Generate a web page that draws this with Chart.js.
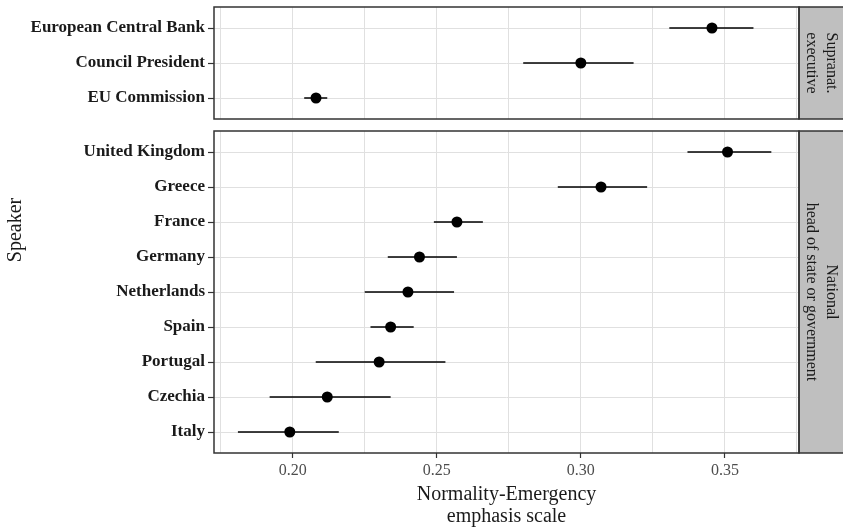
<!DOCTYPE html>
<html>
<head>
<meta charset="utf-8">
<script src="https://cdn.jsdelivr.net/npm/chart.js@4"></script>
<style>
  body { margin: 0; background: #fff; }
</style>
</head>
<body>
<canvas id="grafico" width="843" height="528"></canvas>
<script>
// datos
var speakers = ["European Central Bank", "Council President", "EU Commission",
  "United Kingdom", "Greece", "France", "Germany", "Netherlands", "Spain", "Portugal", "Czechia", "Italy"];
var panel = [0, 0, 0, 1, 1, 1, 1, 1, 1, 1, 1, 1];
var estimate = [0.3455, 0.300, 0.2081, 0.3509, 0.307, 0.257, 0.244, 0.240, 0.234, 0.230, 0.212, 0.199];
var lower = [0.3307, 0.280, 0.204, 0.337, 0.292, 0.249, 0.233, 0.225, 0.227, 0.208, 0.192, 0.181];
var upper = [0.3599, 0.3183, 0.212, 0.3661, 0.323, 0.266, 0.257, 0.256, 0.242, 0.253, 0.234, 0.216];
var majorTicks = [0.20, 0.25, 0.30, 0.35];
var minorTicks = [0.175, 0.225, 0.275, 0.325, 0.375];
var stripLabels = [["Supranat.", "executive"], ["National", "head of state or government"]];

var serif = "'Liberation Serif', 'Times New Roman', serif";
var gapUnits = 12 / 35; // hueco entre paneles

// posicion vertical de cada fila (0.6 de margen como ggplot)
var posiciones = [];
var limitesPanel = [];
(function () {
  var inicio = -0.6;
  var p = -1;
  speakers.forEach(function (s, i) {
    if (panel[i] !== p) {
      if (p !== -1) {
        limitesPanel[p].fin = posiciones[i - 1] + 0.6;
        inicio = limitesPanel[p].fin + gapUnits;
      }
      p = panel[i];
      limitesPanel[p] = { ini: inicio };
      posiciones.push(inicio + 0.6);
    } else {
      posiciones.push(posiciones[i - 1] + 1);
    }
  });
  limitesPanel[p].fin = posiciones[posiciones.length - 1] + 0.6;
})();

var datasets = [];
speakers.forEach(function (s, i) {
  datasets.push({
    data: [{ x: lower[i], y: posiciones[i] }, { x: upper[i], y: posiciones[i] }],
    showLine: true,
    borderColor: "#000",
    borderWidth: 1.5,
    pointRadius: 0,
  });
});
datasets.push({
  data: speakers.map(function (s, i) {
    return { x: estimate[i], y: posiciones[i] };
  }),
  pointRadius: 5.5,
  pointBackgroundColor: "#000",
  pointBorderColor: "#000",
  borderWidth: 0,
});

var esMayor = function (v) {
  return majorTicks.some(function (m) { return Math.abs(m - v) < 1e-6; });
};

var paneles = {
  id: "paneles",
  afterDraw: function (chart) {
    var ctx = chart.ctx;
    var area = chart.chartArea;
    var y = chart.scales.y;
    var ancho = chart.width;
    ctx.save();
    // hueco blanco entre paneles
    var gapTop = y.getPixelForValue(limitesPanel[0].fin);
    var gapBot = y.getPixelForValue(limitesPanel[1].ini);
    ctx.fillStyle = "#fff";
    ctx.fillRect(area.left - 1, gapTop, ancho - area.left + 1, gapBot - gapTop);

    limitesPanel.forEach(function (lp, k) {
      var t = y.getPixelForValue(lp.ini);
      var b = y.getPixelForValue(lp.fin);
      // franja gris
      ctx.fillStyle = "#bfbfbf";
      ctx.fillRect(area.right, t, ancho - area.right, b - t);
      ctx.strokeStyle = "#333";
      ctx.lineWidth = 1.5;
      ctx.strokeRect(area.right, t, ancho - area.right + 2, b - t);
      // borde del panel
      ctx.strokeRect(area.left, t, area.right - area.left, b - t);
      // texto de la franja
      ctx.fillStyle = "#1a1a1a";
      ctx.font = "16px " + serif;
      ctx.textAlign = "center";
      ctx.textBaseline = "middle";
      var cx = (area.right + ancho) / 2;
      var cy = (t + b) / 2;
      ctx.translate(cx, cy);
      ctx.rotate(Math.PI / 2);
      var lineas = stripLabels[k];
      lineas.forEach(function (txt, j) {
        ctx.fillText(txt, 0, (j - (lineas.length - 1) / 2) * 20);
      });
      ctx.setTransform(1, 0, 0, 1, 0, 0);
    });
    ctx.restore();
  },
};

new Chart(document.getElementById("grafico"), {
  type: "scatter",
  data: { datasets: datasets },
  plugins: [paneles],
  options: {
    responsive: false,
    animation: false,
    devicePixelRatio: 1,
    layout: { padding: { top: 7, right: 44, left: 0, bottom: 0 } },
    plugins: { legend: { display: false }, tooltip: { enabled: false } },
    scales: {
      x: {
        type: "linear",
        min: 0.1727,
        max: 0.3757,
        afterBuildTicks: function (scale) {
          scale.ticks = minorTicks.concat(majorTicks).sort().map(function (v) {
            return { value: v };
          });
        },
        afterFit: function (scale) {
          scale.height = 75;
          scale.paddingLeft = 0;
          scale.paddingRight = 0;
        },
        border: { display: false },
        grid: {
          color: "#e0e0e0",
          lineWidth: 1,
          tickLength: 5,
          tickColor: function (c) {
            return esMayor(c.tick.value) ? "#333" : "rgba(0,0,0,0)";
          },
          tickWidth: 1.2,
        },
        ticks: {
          padding: 3,
          maxRotation: 0,
          autoSkip: false,
          color: "#4d4d4d",
          font: { family: serif, size: 16 },
          callback: function (v) {
            return esMayor(v) ? v.toFixed(2) : "";
          },
        },
        title: {
          display: true,
          text: ["Normality-Emergency", "emphasis scale"],
          color: "#1a1a1a",
          font: { family: serif, size: 20, lineHeight: 1.1 },
          padding: { top: 2, bottom: 0 },
        },
      },
      y: {
        type: "linear",
        reverse: true,
        min: limitesPanel[0].ini,
        max: limitesPanel[1].fin,
        afterBuildTicks: function (scale) {
          scale.ticks = posiciones.map(function (v) {
            return { value: v };
          });
        },
        afterFit: function (scale) {
          scale.width = 214;
          scale.paddingTop = 0;
          scale.paddingBottom = 0;
        },
        border: { display: false },
        grid: {
          color: "#e0e0e0",
          lineWidth: 1,
          tickLength: 6,
          tickColor: "#333",
          tickWidth: 1.2,
        },
        ticks: {
          padding: 3,
          autoSkip: false,
          color: "#1a1a1a",
          font: { family: serif, size: 17, weight: "bold" },
          callback: function (v, i) {
            return speakers[i];
          },
        },
        title: {
          display: true,
          text: "Speaker",
          color: "#1a1a1a",
          font: { family: serif, size: 20 },
          padding: { top: 4, bottom: 0 },
        },
      },
    },
  },
});
</script>
</body>
</html>
